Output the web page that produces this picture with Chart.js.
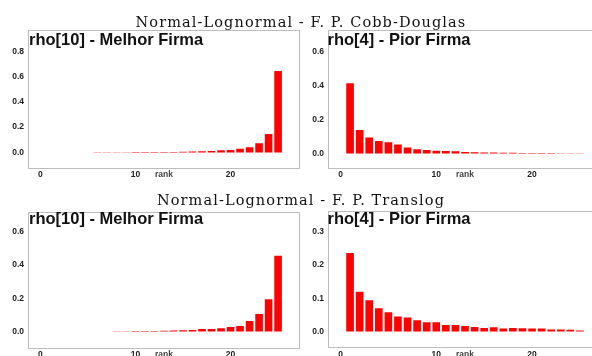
<!DOCTYPE html>
<html>
<head>
<meta charset="utf-8">
<script src="https://cdn.jsdelivr.net/npm/chart.js@4.4.1/dist/chart.umd.min.js"></script>
<style>
  html, body { margin: 0; padding: 0; background: #fff; }
  #page { position: relative; width: 592px; height: 356px; overflow: hidden; }
  canvas { position: absolute; }
  .suptitle { position: absolute; left: 0; width: 602px; text-align: center; font: 14.5px "DejaVu Serif"; letter-spacing: 1.1px; line-height: 1; color: #111; white-space: nowrap; }
  .ptitle { position: absolute; font: bold 16.5px "Liberation Sans"; line-height: 1; color: #111; white-space: nowrap; }
</style>
</head>
<body>
<div id="page">
  <canvas id="cdBest" width="310" height="185" style="left:0;top:0"></canvas>
  <canvas id="cdWorst" width="300" height="185" style="left:305px;top:0"></canvas>
  <canvas id="tlBest" width="310" height="175" style="left:0;top:185px"></canvas>
  <canvas id="tlWorst" width="300" height="175" style="left:305px;top:185px"></canvas>

  <div class="suptitle" style="top:14.5px">Normal-Lognormal - F. P. Cobb-Douglas</div>
  <div class="suptitle" style="top:192.7px">Normal-Lognormal - F. P. Translog</div>
  <div class="ptitle" style="left:29px;top:31px">rho[10] - Melhor Firma</div>
  <div class="ptitle" style="left:327.5px;top:30.5px">rho[4] - Pior Firma</div>
  <div class="ptitle" style="left:29px;top:210px">rho[10] - Melhor Firma</div>
  <div class="ptitle" style="left:327.5px;top:210px">rho[4] - Pior Firma</div>
</div>

<script>
// firm rank on the x axis
const ranks = [1, 2, 3, 4, 5, 6, 7, 8, 9, 10, 11, 12, 13, 14, 15, 16, 17, 18, 19, 20, 21, 22, 23, 24, 25];

// Cobb-Douglas
const cdBest = [0, 0, 0, 0, 0, 0.002, 0.002, 0.002, 0.002, 0.003, 0.003, 0.003, 0.004, 0.004, 0.006,
                0.008, 0.010, 0.012, 0.017, 0.020, 0.030, 0.041, 0.073, 0.146, 0.643];
const cdWorst = [0.413, 0.138, 0.095, 0.074, 0.066, 0.054, 0.036, 0.026, 0.021, 0.017, 0.015, 0.013, 0.009,
                 0.008, 0.007, 0.006, 0.005, 0.005, 0.004, 0.004, 0.003, 0.003, 0.002, 0.002, 0.002];

// Translog
const tlBest = [0, 0, 0, 0, 0, 0, 0, 0.002, 0.002, 0.003, 0.003, 0.004, 0.005, 0.006, 0.008,
                0.010, 0.015, 0.016, 0.020, 0.028, 0.034, 0.063, 0.105, 0.195, 0.457];
const tlWorst = [0.236, 0.120, 0.094, 0.070, 0.058, 0.045, 0.042, 0.034, 0.028, 0.028, 0.020, 0.020, 0.017,
                 0.014, 0.011, 0.013, 0.009, 0.011, 0.010, 0.009, 0.009, 0.006, 0.006, 0.005, 0.003];

const rankTicks = [0, 10, 20];
const cdBestTicks = [0, 0.2, 0.4, 0.6, 0.8];
const cdWorstTicks = [0, 0.2, 0.4, 0.6];
const tlBestTicks = [0, 0.2, 0.4, 0.6];
const tlWorstTicks = [0, 0.1, 0.2, 0.3];
const xTitle = 'rank';

const tickFont = { family: 'Liberation Sans', size: 8.5, weight: 'bold' };
const X_AXIS_H = 13;

// light grey box around each plot area
const frame = {
  id: 'frame',
  beforeDatasetsDraw(chart) {
    const { ctx, chartArea: a } = chart;
    ctx.save();
    ctx.strokeStyle = '#bdbdbd';
    ctx.lineWidth = 1;
    ctx.strokeRect(Math.round(a.left) - 0.5, Math.round(a.top) - 0.5,
                   Math.round(a.right - a.left) + 1, Math.round(a.bottom - a.top) + 1);
    ctx.restore();
  }
};

function panel(id, box, values, yMin, yMax, yTicks) {
  const canvas = document.getElementById(id);
  const cl = canvas.offsetLeft, ct = canvas.offsetTop;
  const yAxisW = box.left - cl;

  return new Chart(canvas, {
    type: 'bar',
    data: {
      datasets: [{
        data: ranks.map((r, i) => ({ x: r, y: values[i] })),
        backgroundColor: '#ff0000',
        borderWidth: 0,
        barPercentage: 0.8,
        categoryPercentage: 1
      }]
    },
    options: {
      responsive: false,
      animation: false,
      layout: {
        padding: {
          left: 0,
          top: box.top - ct,
          right: cl + canvas.width - box.right,
          bottom: ct + canvas.height - box.bottom - X_AXIS_H
        }
      },
      plugins: { legend: { display: false }, tooltip: { enabled: false } },
      scales: {
        x: {
          type: 'linear',
          offset: false,
          min: -1.2,
          max: 27.2,
          grid: { display: false, drawTicks: false },
          border: { display: false },
          afterBuildTicks: s => { s.ticks = rankTicks.map(v => ({ value: v })); },
          afterFit: s => { s.height = X_AXIS_H; },
          ticks: { font: tickFont, color: '#222', padding: 3, autoSkip: false, maxRotation: 0,
                   callback: v => String(v) },
          title: { display: true, text: xTitle, font: tickFont, color: '#444', padding: 0 }
        },
        y: {
          min: yMin,
          max: yMax,
          grid: { display: false, drawTicks: false },
          border: { display: false },
          afterBuildTicks: s => { s.ticks = yTicks.map(v => ({ value: v })); },
          afterFit: s => { s.width = yAxisW; },
          ticks: { font: tickFont, color: '#222', padding: 5, callback: v => v.toFixed(1) }
        }
      }
    },
    plugins: [frame]
  });
}

panel('cdBest',  { left: 29,  top: 30.5,  right: 299, bottom: 167 },   cdBest,  -0.115, 0.964, cdBestTicks);
panel('cdWorst', { left: 329, top: 30.5,  right: 601, bottom: 167 },   cdWorst, -0.079, 0.724, cdWorstTicks);
panel('tlBest',  { left: 29,  top: 212.5, right: 299, bottom: 347 },   tlBest,  -0.093, 0.717, tlBestTicks);
panel('tlWorst', { left: 329, top: 211.5, right: 601, bottom: 346.5 }, tlWorst, -0.045, 0.361, tlWorstTicks);
</script>
</body>
</html>
